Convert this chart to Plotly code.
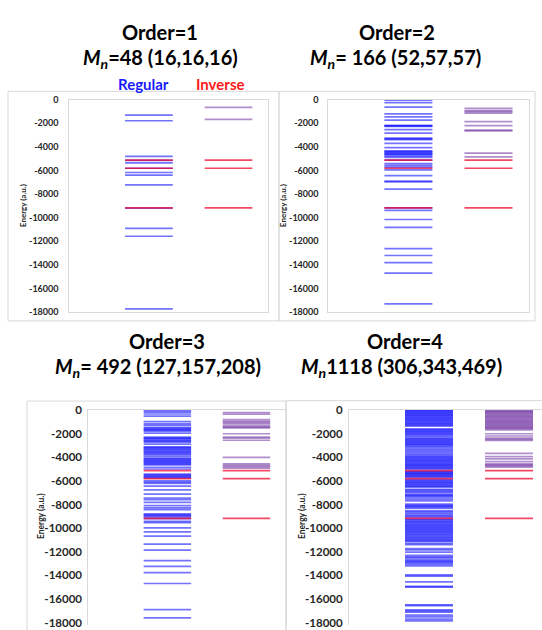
import plotly.graph_objects as go

# ---------------- data (energies, a.u.) ----------------
tick_vals = [0, -2000, -4000, -6000, -8000, -10000, -12000, -14000, -16000, -18000]
tick_text = ["0", "-2000", "-4000", "-6000", "-8000", "-10000", "-12000", "-14000", "-16000", "-18000"]

reference_levels = [-5140, -5820, -9180]

o1_regular = [-1330, -1800, -4820, -5150, -5370, -5820, -6180, -6400, -7230, -9190,
              -10915, -11580, -17730]
o1_inverse = [-665, -1690]

o2_regular = [-60, -260, -640, -1220, -1470, -1745, -2190, -2230, -2270, -2550, -2850,
              -3270, -3330, -3410, -3710, -4070, -4350, -4420, -4480, -4550, -4620,
              -4680, -4790, -4900, -5130, -5430, -5570, -5730, -5960, -6450, -6900,
              -6980, -7590, -9180, -9390, -10160, -10830, -12630, -13210, -13820,
              -14710, -17310]
o2_inverse = [-750, -950, -1030, -1160, -1870, -2220, -2600, -2660, -4540, -4860]

o3_regular = [-80, -200, -350, -520, -1000, -1180, -1300, -1480, -1560, -1640, -1720,
              -1800, -1960, -2300, -2380, -2460, -2560, -2650, -2720, -2900, -3120,
              -3200, -3280, -3360, -3450, -3540, -3620, -3700, -3800, -3950, -4090,
              -4170, -4250, -4330, -4420, -4500, -4580, -4660, -4850, -5000, -5420,
              -5500, -5580, -5660, -5750, -6000, -6120, -6220, -6440, -6770, -7130,
              -7460, -7600, -7820, -8100, -8280, -8430, -8800, -8880, -8960, -9060,
              -9200, -9430, -9540, -9980, -10310, -10670, -11360, -11860, -12750,
              -13240, -13770, -14680, -16890, -17590]
o3_inverse = [-220, -360, -830, -970, -1060, -1190, -1350, -1450, -1520, -2020, -2300,
              -2400, -2570, -4010, -4560, -4700, -4790, -4920]

o4_regular = [-20, -90, -160, -230, -300, -380, -450, -520, -600, -680, -750, -830,
              -900, -980, -1060, -1130, -1210, -1290, -1370, -1600, -1680, -1750,
              -1830, -1910, -1990, -2070, -2160, -2280, -2400, -2480, -2550, -2630,
              -2710, -2790, -2870, -2950, -3030, -3130, -3260, -3380, -3500, -3620,
              -3740, -3860, -3960, -4040, -4120, -4200, -4280, -4360, -4440, -4520,
              -4600, -4680, -4760, -4840, -4920, -5010, -5200, -5270, -5340, -5410,
              -5470, -5560, -5630, -5700, -5900, -5980, -6060, -6140, -6220, -6300,
              -6380, -6460, -6540, -6720, -6800, -6900, -6990, -7140, -7220, -7300,
              -7400, -7550, -7690, -7960, -8050, -8140, -8230, -8320, -8520, -8620,
              -8740, -8850, -8960, -9070, -9250, -9330, -9420, -9500, -9590, -9680,
              -9760, -9850, -9930, -10020, -10100, -10190, -10280, -10360, -10450,
              -10540, -10620, -10710, -10800, -10890, -10980, -11060, -11140, -11300,
              -11400, -11720, -11830, -12030, -12300, -12420, -12520, -12660, -12760,
              -12860, -12960, -13080, -13200, -13950, -14050, -14540, -14920, -14990,
              -16480, -16560, -16900, -17000, -17100, -17350, -17500, -17700, -17850]
o4_inverse = [-30, -100, -170, -240, -320, -400, -480, -560, -640, -720, -800, -880,
              -960, -1040, -1120, -1200, -1290, -1370, -1450, -1530, -1610, -1700,
              -2020, -2210, -2380, -2500, -2580, -3680, -3950, -4150, -4370, -4560,
              -4650, -4740, -4840]

panels = [
    ("Order=1", "<i>M<sub>n</sub></i>=48 (16,16,16)", o1_regular, o1_inverse),
    ("Order=2", "<i>M<sub>n</sub></i>= 166 (52,57,57)", o2_regular, o2_inverse),
    ("Order=3", "<i>M<sub>n</sub></i>= 492 (127,157,208)", o3_regular, o3_inverse),
    ("Order=4", "<i>M<sub>n</sub></i>1118 (306,343,469)", o4_regular, o4_inverse),
]

# ---------------- geometry ----------------
W, H = 542, 630
def px(x): return x / W
def py(y): return 1 - y / H

geo = [
    dict(x=(69.3, 268.3), y=(94.3, 311.0), xr=[0, 2.5], yr=[-18000, 0], fs=9, stand=8),
    dict(x=(328.3, 528.5), y=(94.3, 311.0), xr=[0, 2.5], yr=[-18000, 0], fs=9, stand=7),
    dict(x=(88.3, 286.0), y=(410.7, 630.0), xr=[0, 2.5], yr=[-18191, 0], fs=11.5, stand=3),
    dict(x=(349.0, 542.0), y=(410.7, 630.0), xr=[0, 2.4125], yr=[-18191, 0], fs=11.5, stand=3),
]

BLUE = "rgba(0,0,255,0.55)"
PURPLE = "rgba(112,48,160,0.55)"
RED = "rgba(240,0,40,0.72)"
GRID = "#d9d9d9"
FONT = "Lato"
HW = 0.3

def segs(levels, c):
    xs, ys = [], []
    for e in levels:
        xs += [c - HW, c + HW, None]
        ys += [e, e, None]
    return xs, ys

fig = go.Figure()
layout = dict(width=W, height=H, margin=dict(l=0, r=0, t=0, b=0),
              paper_bgcolor="white", plot_bgcolor="white", showlegend=False)
annotations = []
shapes = []

for i, (t1, t2, reg, inv) in enumerate(panels):
    n = i + 1
    g = geo[i]
    xa = "x" if n == 1 else f"x{n}"
    ya = "y" if n == 1 else f"y{n}"
    for levels, c, col in [(reg, 1, BLUE), (inv, 2, PURPLE),
                           (reference_levels, 1, RED), (reference_levels, 2, RED)]:
        xs, ys = segs(levels, c)
        fig.add_trace(go.Scatter(x=xs, y=ys, mode="lines", xaxis=xa, yaxis=ya,
                                 line=dict(color=col, width=1.7), hoverinfo="skip"))
    full_box = n <= 2
    layout[f"xaxis{'' if n == 1 else n}"] = dict(
        domain=[px(g["x"][0]), px(g["x"][1])], range=g["xr"], anchor=ya,
        showticklabels=False, showgrid=False, zeroline=False, ticks="",
        showline=True, linecolor=GRID, linewidth=1,
        mirror=True if full_box else False, side="bottom" if full_box else "top",
        fixedrange=True)
    layout[f"yaxis{'' if n == 1 else n}"] = dict(
        domain=[py(g["y"][1]), py(g["y"][0])], range=g["yr"], anchor=xa,
        tickvals=tick_vals, ticktext=tick_text, showgrid=False, zeroline=False,
        showline=True, linecolor=GRID, linewidth=1, mirror=(n != 4),
        ticks="", ticklabelstandoff=g["stand"],
        tickfont=dict(family=FONT, size=g["fs"], color="#262626", weight="bold"),
        fixedrange=True)

def ann(text, x, y, size, color="black", angle=0):
    return dict(text=text, x=px(x), y=py(y), xref="paper", yref="paper", showarrow=False,
                xanchor="center", yanchor="middle", textangle=angle,
                font=dict(family=FONT, size=size, color=color))

title_pos = [((160, 25), (160, 53)), ((397, 25), (395, 53)),
             ((167, 340), (158, 367)), ((405, 340), (402, 367))]
for (t1, t2, _, _), ((x1, y1), (x2, y2)) in zip(panels, title_pos):
    annotations.append(ann(f"<b>{t1}</b>", x1, y1, 20))
    annotations.append(ann(f"<b>{t2}</b>", x2, y2, 20))

annotations.append(ann("<b>Regular</b>", 143, 78, 15, "#1a1aff"))
annotations.append(ann("<b>Inverse</b>", 221, 78, 15, "#ff1a1a"))

for (xc, yc, fs) in [(23, 203, 8), (283, 203, 8), (41, 519, 8.5), (302, 519, 8.5)]:
    annotations.append(ann("<b>Energy (a.u.)</b>", xc, yc, fs, "#262626", -90))

for (x0, y0, x1, y1) in [(8, 86, 279, 320), (279, 86, 535, 320),
                         (27, 401.7, 286, 640), (286, 401.3, 560, 640)]:
    shapes.append(dict(type="rect", xref="paper", yref="paper",
                       x0=px(x0), x1=px(x1), y0=py(y1), y1=py(y0),
                       line=dict(color=GRID, width=1), layer="below"))

layout["annotations"] = annotations
layout["shapes"] = shapes
fig.update_layout(**layout)
fig.write_html("out.html", config={"displayModeBar": False},
               post_script="document.body.style.margin='0';document.body.style.overflow='hidden';")
